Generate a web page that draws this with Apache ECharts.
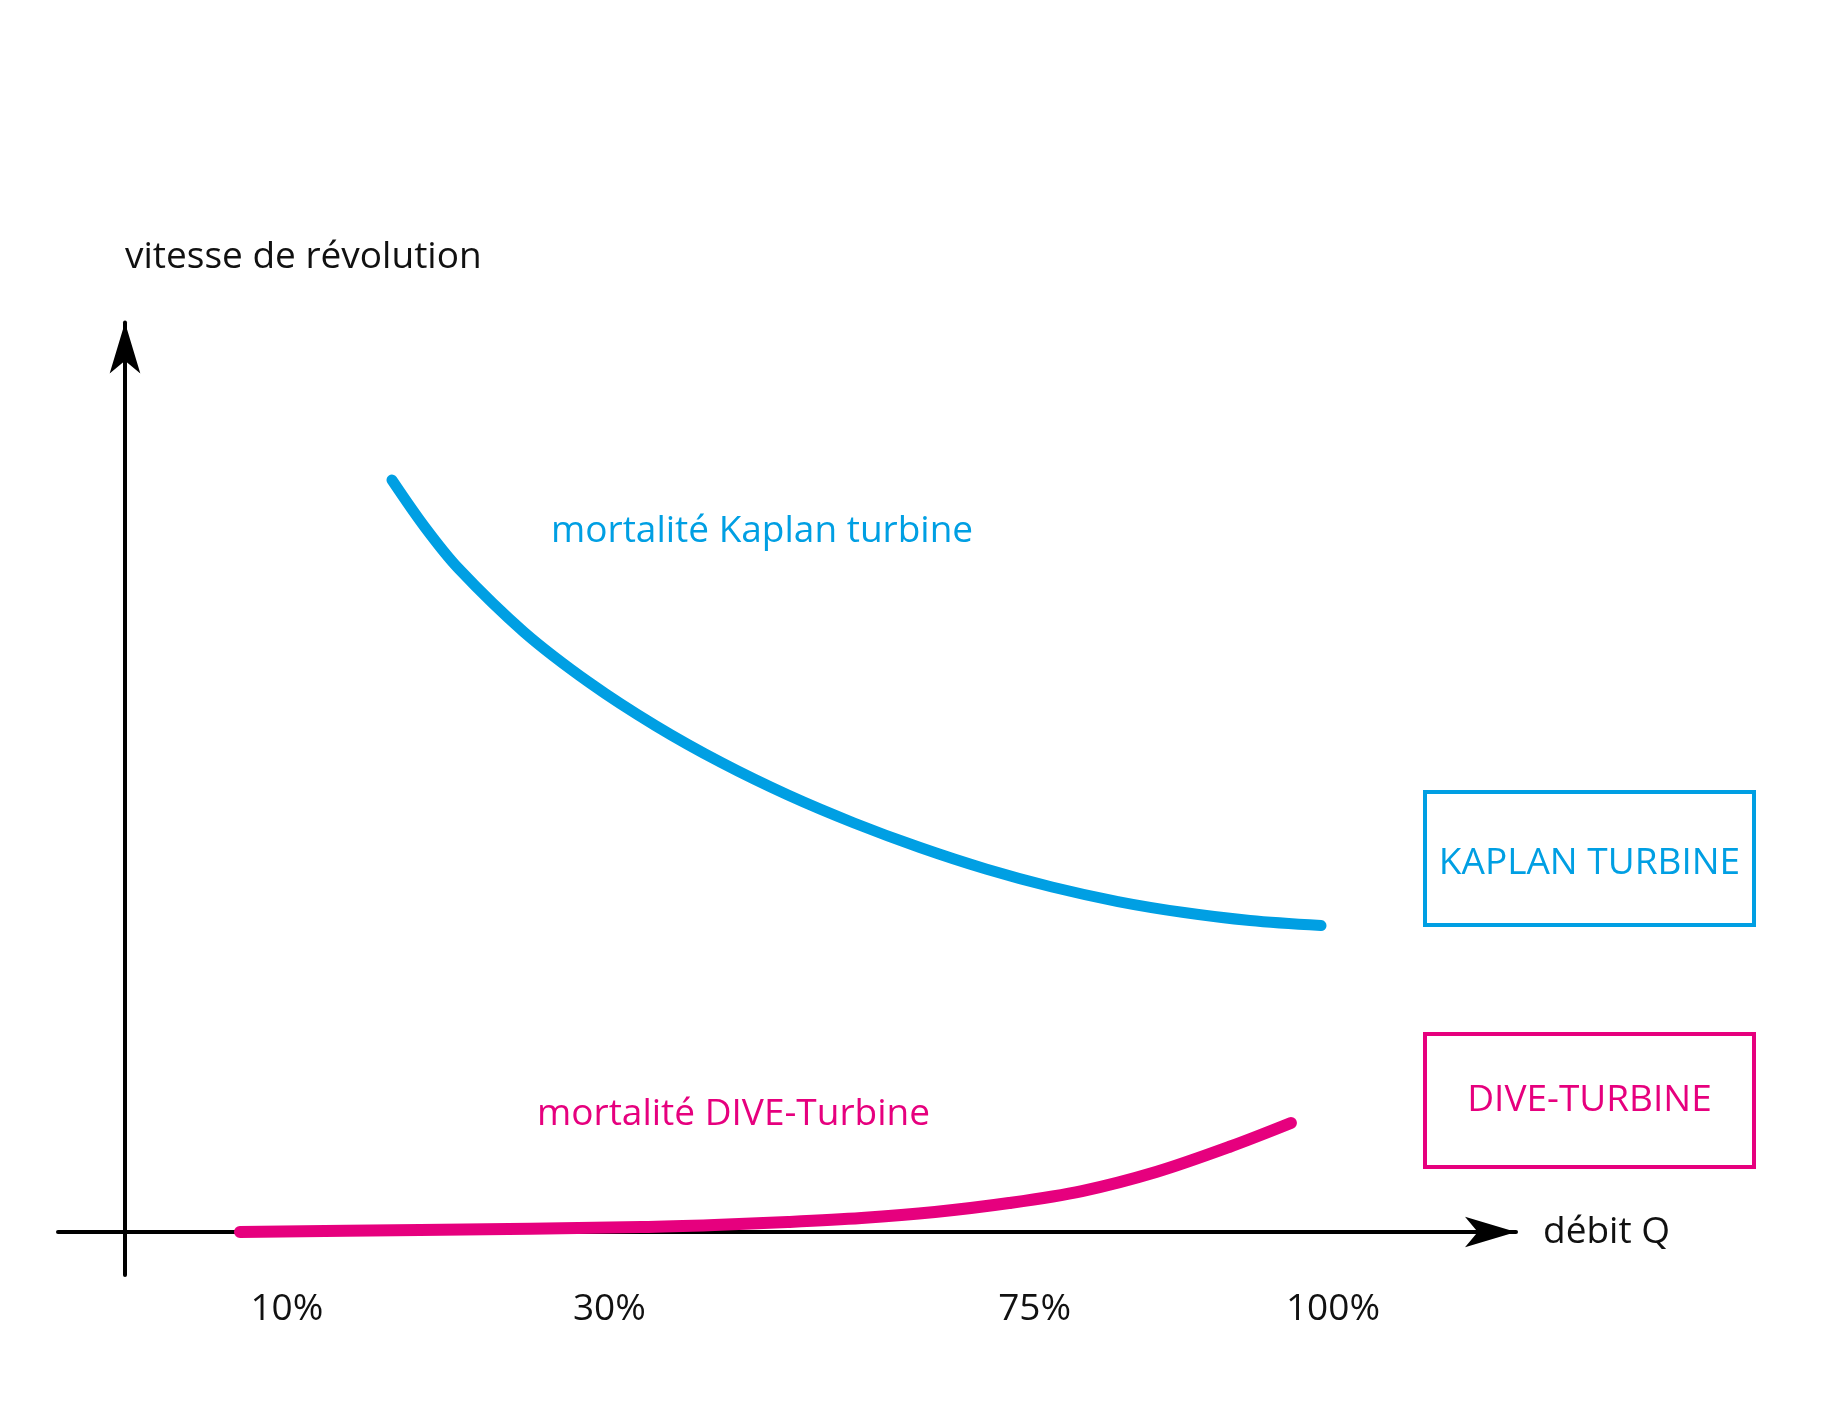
<!DOCTYPE html>
<html>
<head>
<meta charset="utf-8">
<script src="https://cdn.jsdelivr.net/npm/echarts@6/dist/echarts.min.js"></script>
<style>
  html, body { margin: 0; padding: 0; background: #fff; }
  #chart { width: 1831px; height: 1418px; }
</style>
</head>
<body>
<div id="chart"></div>
<script>
// ---- data (schematic units: x = position along débit axis, y = vitesse) ----
const xTickPositions = [13.4, 40.1, 75.3, 100];
const xTickLabels = ['10%', '30%', '75%', '100%'];

const kaplanX = [22.1, 24.83, 27.57, 33.03, 38.49, 43.96, 49.42, 54.88, 60.35, 65.81, 71.27, 76.74, 82.2, 87.67, 93.13, 99.01];
const kaplanY = [84.83, 79.5, 74.9, 67.68, 61.93, 57.08, 52.91, 49.29, 46.14, 43.37, 40.95, 38.92, 37.28, 36.04, 35.14, 34.57];

const diveX = [9.52, 24.42, 42.72, 48.8, 54.88, 60.97, 67.05, 73.18, 79.22, 85.35, 91.39, 96.52];
const diveY = [0, 0.23, 0.56, 0.79, 1.13, 1.58, 2.26, 3.27, 4.62, 6.77, 9.59, 12.3];

const xAxisName = 'débit Q';
const yAxisName = 'vitesse de révolution';
const kaplanNote = 'mortalité Kaplan turbine';
const diveNote = 'mortalité DIVE-Turbine';
const kaplanBox = 'KAPLAN TURBINE';
const diveBox = 'DIVE-TURBINE';

// ---- styles ----
const BLUE = '#009FE3';
const PINK = '#E6007E';
const INK = '#111111';
const FONT = '"Open Sans", "Noto Sans", sans-serif';

const chart = echarts.init(document.getElementById('chart'), null, { renderer: 'canvas' });

const zip = (xs, ys) => xs.map((x, i) => [x, ys[i]]);

chart.setOption({
  animation: false,
  backgroundColor: '#ffffff',
  textStyle: { fontFamily: FONT },
  grid: { left: 58, right: 315, top: 322.5, bottom: 143, containLabel: false, outerBoundsMode: 'none' },
  xAxis: {
    type: 'value',
    min: -5.546,
    max: 115.15,
    splitLine: { show: false },
    axisTick: { show: false },
    axisLine: {
      show: true, onZero: true,
      symbol: ['none', 'arrow'], symbolSize: [23, 51],
      lineStyle: { color: '#000', width: 4 }
    },
    axisLabel: {
      show: true,
      customValues: xTickPositions,
      formatter: function (v) {
        const i = xTickPositions.indexOf(v);
        return i >= 0 ? xTickLabels[i] : '';
      },
      margin: 16,
      fontSize: 37, color: INK, fontFamily: FONT
    },
    name: xAxisName,
    nameLocation: 'end',
    nameGap: 27,
    nameTextStyle: { fontSize: 37, color: INK, fontFamily: FONT, align: 'left', verticalAlign: 'middle', padding: [4, 0, 0, 0] }
  },
  yAxis: {
    type: 'value',
    min: -4.85,
    max: 102.6,
    splitLine: { show: false },
    axisTick: { show: false },
    axisLabel: { show: false },
    axisLine: {
      show: true, onZero: true,
      symbol: ['none', 'arrow'], symbolSize: [23, 51],
      lineStyle: { color: '#000', width: 4 }
    },
    name: yAxisName,
    nameLocation: 'end',
    nameGap: 65.5,
    nameTextStyle: { fontSize: 37, color: INK, fontFamily: FONT, align: 'left', verticalAlign: 'middle' }
  },
  series: [
    {
      name: kaplanBox,
      type: 'line',
      data: zip(kaplanX, kaplanY),
      smooth: 0.33,
      showSymbol: false,
      z: 3,
      lineStyle: { color: BLUE, width: 11, cap: 'round', join: 'round' }
    },
    {
      name: diveBox,
      type: 'line',
      data: zip(diveX, diveY),
      smooth: 0.33,
      showSymbol: false,
      z: 4,
      lineStyle: { color: PINK, width: 12, cap: 'round', join: 'round' }
    }
  ],
  graphic: [
    { type: 'text', x: 551, y: 531, style: { text: kaplanNote, fill: BLUE, font: '37px ' + FONT, align: 'left', verticalAlign: 'middle' } },
    { type: 'text', x: 537, y: 1114.5, style: { text: diveNote, fill: PINK, font: '37px ' + FONT, align: 'left', verticalAlign: 'middle' } },
    { type: 'rect', shape: { x: 1425, y: 792, width: 329, height: 133 }, style: { fill: 'none', stroke: BLUE, lineWidth: 4 } },
    { type: 'rect', shape: { x: 1425, y: 1034, width: 329, height: 133 }, style: { fill: 'none', stroke: PINK, lineWidth: 4 } },
    { type: 'text', x: 1589.5, y: 863.5, style: { text: kaplanBox, fill: BLUE, font: '37px ' + FONT, align: 'center', verticalAlign: 'middle' } },
    { type: 'text', x: 1589.5, y: 1100.5, style: { text: diveBox, fill: PINK, font: '37px ' + FONT, align: 'center', verticalAlign: 'middle' } }
  ]
});
</script>
</body>
</html>
